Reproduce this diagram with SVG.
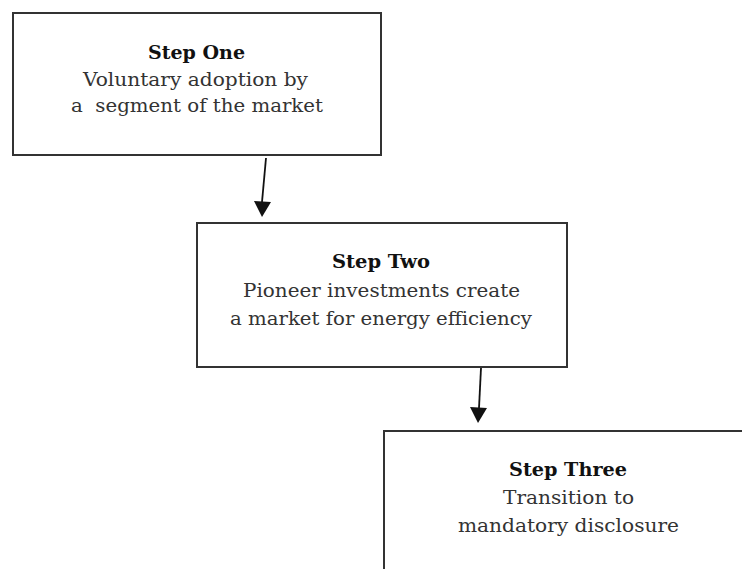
<svg xmlns="http://www.w3.org/2000/svg" width="742" height="569" viewBox="0 0 742 569">
  <defs>
    <style>
      .box { fill: #fff; stroke: #333; stroke-width: 2; }
      .title { font-family: "DejaVu Serif", "Liberation Serif", serif; font-size: 18px; font-weight: bold; fill: #111; text-anchor: middle; }
      .body { font-family: "DejaVu Serif", "Liberation Serif", serif; font-size: 18px; fill: #333; text-anchor: middle; }
      .link { stroke: #111; stroke-width: 1.8; fill: none; }
      .head { fill: #111; }
    </style>
  </defs>
  <rect width="742" height="569" fill="#fff"/>

  <g id="step-one">
    <rect class="box" x="13" y="13" width="368" height="142"/>
    <text class="title" x="196.5" y="59" textLength="97" lengthAdjust="spacingAndGlyphs">Step One</text>
    <text class="body" x="195.5" y="86" textLength="225" lengthAdjust="spacingAndGlyphs">Voluntary adoption by</text>
    <text class="body" x="197" y="112" textLength="252" lengthAdjust="spacingAndGlyphs" xml:space="preserve">a  segment of the market</text>
  </g>

  <g id="step-two">
    <rect class="box" x="197" y="223" width="370" height="144"/>
    <text class="title" x="381" y="268" textLength="98" lengthAdjust="spacingAndGlyphs">Step Two</text>
    <text class="body" x="381.5" y="297" textLength="277" lengthAdjust="spacingAndGlyphs">Pioneer investments create</text>
    <text class="body" x="381" y="325" textLength="302" lengthAdjust="spacingAndGlyphs">a market for energy efficiency</text>
  </g>

  <g id="step-three">
    <rect class="box" x="384" y="431" width="370" height="150"/>
    <text class="title" x="568" y="476" textLength="118" lengthAdjust="spacingAndGlyphs">Step Three</text>
    <text class="body" x="568.5" y="504" textLength="131" lengthAdjust="spacingAndGlyphs">Transition to</text>
    <text class="body" x="568.5" y="532" textLength="221" lengthAdjust="spacingAndGlyphs">mandatory disclosure</text>
  </g>

  <g id="connectors">
    <path class="link" d="M266,158 L262,202"/>
    <path class="head" d="M254,201 L271,202 L262,217 Z"/>
    <path class="link" d="M481,368 L479,408"/>
    <path class="head" d="M470,407 L487,408 L478,423 Z"/>
  </g>
</svg>
